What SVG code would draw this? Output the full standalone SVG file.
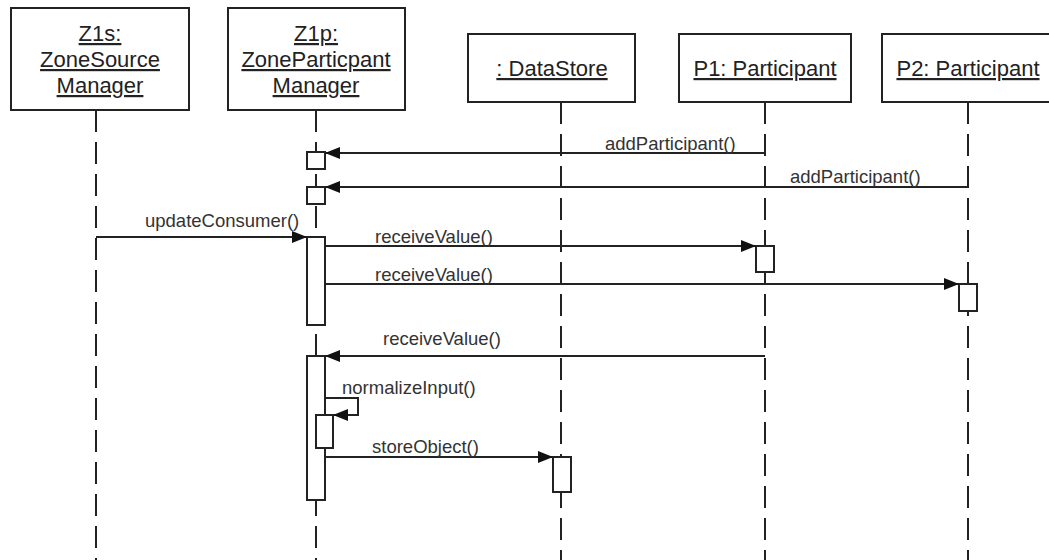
<svg xmlns="http://www.w3.org/2000/svg" width="1049" height="560" viewBox="0 0 1049 560">
<style>
.box{fill:#fff;stroke:#222;stroke-width:2}
.act{fill:#fff;stroke:#222;stroke-width:2}
.life{stroke:#222;stroke-width:2;stroke-dasharray:22 10;fill:none}
.hdr{font-family:"Liberation Sans",Arial,sans-serif;font-size:22px;fill:#222;text-anchor:middle;text-decoration:underline}
.lbl{font-family:"Liberation Sans",Arial,sans-serif;font-size:18.5px;fill:#333}
.msg{stroke:#222;stroke-width:2;fill:none;marker-end:url(#ah)}
</style>
<defs>
<marker id="ah" markerUnits="userSpaceOnUse" markerWidth="16" markerHeight="12" refX="15" refY="6" orient="auto">
<path d="M0,0 L15,6 L0,12 z" fill="#111"/>
</marker>
</defs>
<rect width="1049" height="560" fill="#fff"/>
<g id="z1s">
<line class="life" x1="96" y1="110" x2="96" y2="560"/>
<rect class="box" x="11" y="8" width="178" height="102"/>
<text class="hdr" x="100" y="41">Z1s:</text>
<text class="hdr" x="100" y="67">ZoneSource</text>
<text class="hdr" x="100" y="93">Manager</text>
</g>
<g id="z1p">
<line class="life" x1="316" y1="110" x2="316" y2="560"/>
<rect class="box" x="228" y="8" width="177" height="102"/>
<text class="hdr" x="316" y="41">Z1p:</text>
<text class="hdr" x="316" y="67">ZoneParticpant</text>
<text class="hdr" x="316" y="93">Manager</text>
<rect class="act" x="307" y="152" width="18" height="17"/>
<rect class="act" x="307" y="187" width="18" height="17"/>
<rect class="act" x="307" y="237" width="18" height="88"/>
<rect class="act" x="307" y="356" width="18" height="144"/>
<rect class="act" x="316" y="415" width="17" height="33"/>
</g>
<g id="datastore">
<line class="life" x1="561" y1="102" x2="561" y2="560"/>
<rect class="box" x="468" y="34" width="167" height="68"/>
<text class="hdr" x="552" y="76">: DataStore</text>
<rect class="act" x="553" y="457" width="18" height="35"/>
</g>
<g id="p1">
<line class="life" x1="765" y1="102" x2="765" y2="560"/>
<rect class="box" x="679" y="34" width="172" height="68"/>
<text class="hdr" x="765" y="76">P1: Participant</text>
<rect class="act" x="756" y="246" width="18" height="26"/>
</g>
<g id="p2">
<line class="life" x1="968" y1="102" x2="968" y2="560"/>
<rect class="box" x="882" y="34" width="172" height="68"/>
<text class="hdr" x="968" y="76">P2: Participant</text>
<rect class="act" x="959" y="284" width="18" height="27"/>
</g>
<g id="connectors">
<line class="msg" x1="765" y1="153" x2="325" y2="153"/>
<text class="lbl" x="605" y="150">addParticipant()</text>
<line class="msg" x1="968" y1="187" x2="325" y2="187"/>
<text class="lbl" x="790" y="183">addParticipant()</text>
<line class="msg" x1="96" y1="237" x2="307" y2="237"/>
<text class="lbl" x="145" y="227">updateConsumer()</text>
<line class="msg" x1="325" y1="246" x2="756" y2="246"/>
<text class="lbl" x="375" y="243">receiveValue()</text>
<line class="msg" x1="325" y1="284" x2="959" y2="284"/>
<text class="lbl" x="375" y="281">receiveValue()</text>
<line class="msg" x1="765" y1="356" x2="325" y2="356"/>
<text class="lbl" x="383" y="345">receiveValue()</text>
<path class="msg" d="M325,398 H358 V415 H333"/>
<text class="lbl" x="342" y="394">normalizeInput()</text>
<line class="msg" x1="325" y1="457" x2="553" y2="457"/>
<text class="lbl" x="372" y="453">storeObject()</text>
</g>
</svg>
